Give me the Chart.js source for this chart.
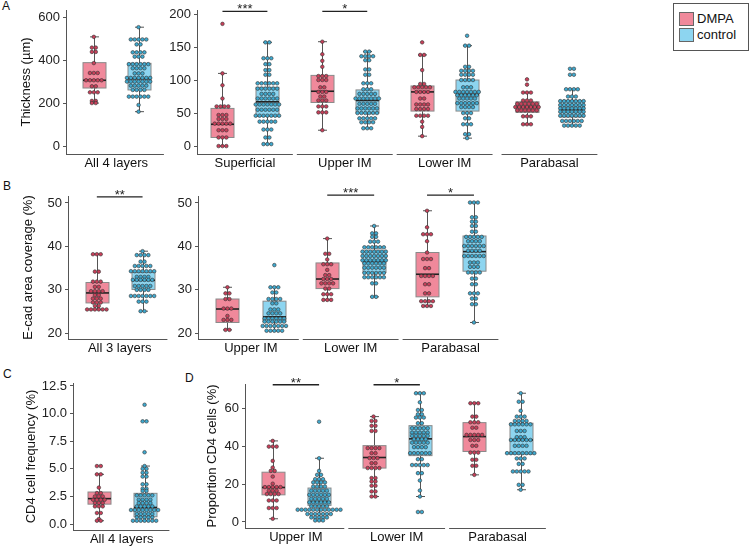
<!DOCTYPE html>
<html>
<head>
<meta charset="utf-8">
<script src="https://cdn.jsdelivr.net/npm/chart.js@4.4.0/dist/chart.umd.min.js"></script>
<style>
  body { margin: 0; width: 750px; height: 547px; position: relative; overflow: hidden; background: #fff;
         font-family: "Liberation Sans", Arial, sans-serif; color: #111; }
  .tag { position: absolute; font-size: 12px; line-height: 12px; }
  #legend { position: absolute; left: 673px; top: 3px; width: 74px; height: 46px; border: 1px solid #555; }
  #legend .sw { position: absolute; left: 5px; width: 13px; height: 12px; border: 1px solid #666; }
  #legend .lb { position: absolute; left: 23px; font-size: 13px; line-height: 13px; }
</style>
</head>
<body>
<div class="tag" style="left:2px;top:0px">A</div>
<div class="tag" style="left:3px;top:180px">B</div>
<div class="tag" style="left:3px;top:368px">C</div>
<div class="tag" style="left:185px;top:372px">D</div>
<div id="legend">
  <div class="sw" style="top:8px;background:#f0899b"></div><div class="lb" style="top:8px">DMPA</div>
  <div class="sw" style="top:24px;background:#8dd5f0"></div><div class="lb" style="top:24px">control</div>
</div>
<script>
const layers4 = ['Superficial', 'Upper IM', 'Lower IM', 'Parabasal'];
const layers3 = ['Upper IM', 'Lower IM', 'Parabasal'];

// box stats are [lower whisker, q1, median, q3, upper whisker]

// A - epithelial thickness (µm), all 4 layers
const thickAllDmpa = [510, 460, 460, 440, 440, 388, 342, 342, 342, 308, 308, 308, 308, 308, 280, 280, 252, 252, 252, 212, 212, 202, 202];
const thickAllCtrl = [555, 498, 498, 498, 498, 498, 475, 475, 438, 438, 438, 438, 418, 418, 418, 383, 383, 383, 383, 383, 383,
  364, 364, 364, 364, 340, 340, 340, 319, 319, 319, 319, 319, 319, 319, 302, 302, 302, 302, 302, 302, 302,
  283, 283, 283, 283, 283, 263, 263, 263, 263, 232, 232, 232, 232, 232, 232, 193, 162];
const thickAllBoxDmpa = [202, 272, 308, 390, 510];
const thickAllBoxCtrl = [162, 263, 315, 387, 555];

// A - thickness per layer
const thickDmpa = [
  [186, 111, 93, 73, 61, 61, 61, 61, 48, 48, 48, 42, 42, 42, 35, 35, 35, 35, 35, 25, 25, 25, 14, 14, 14, 1, 1, 1],
  [159, 140, 130, 121, 107, 107, 107, 101, 101, 101, 90, 90, 83, 83, 83, 76, 76, 70, 70, 70, 61, 61, 61, 52, 52, 52, 25],
  [158, 139, 139, 116, 95, 95, 90, 90, 90, 90, 90, 83, 83, 83, 83, 73, 73, 64, 64, 64, 64, 57, 57, 57, 57, 47, 47, 47, 47, 38, 30, 16],
  [102, 94, 82, 82, 82, 70, 70, 70, 65, 65, 65, 65, 65, 65, 60, 60, 60, 60, 60, 60, 60, 55, 55, 55, 55, 55, 55, 46, 46, 46, 34, 34, 34]
];
const thickCtrl = [
  [158, 158, 134, 134, 134, 125, 125, 116, 116, 109, 109, 96, 96, 96, 96, 96, 96, 88, 88, 88, 88, 88, 88, 80, 80, 80, 80,
   73, 73, 73, 73, 73, 73, 64, 64, 64, 64, 64, 64, 64, 56, 56, 56, 56, 56, 56, 47, 47, 47, 47, 47, 47, 47,
   38, 38, 38, 38, 38, 26, 26, 26, 14, 14, 4, 4, 4],
  [144, 144, 137, 137, 137, 137, 131, 131, 117, 117, 109, 109, 96, 96, 96, 87, 87, 87, 80, 80, 80, 80, 80,
   73, 73, 73, 73, 73, 73, 73, 65, 65, 65, 65, 65, 58, 58, 58, 58, 58, 58, 51, 51, 51, 51, 51, 51,
   43, 43, 43, 43, 43, 37, 37, 37, 37, 28, 28, 28],
  [168, 153, 153, 121, 121, 115, 115, 115, 115, 109, 109, 109, 109, 101, 101, 101, 101, 90, 90, 90,
   83, 83, 83, 83, 83, 83, 83, 78, 78, 78, 78, 78, 78, 73, 73, 73, 73, 73, 66, 66, 66, 66, 66, 66,
   60, 60, 60, 60, 51, 51, 51, 43, 43, 34, 34, 34, 19, 19, 13],
  [118, 118, 109, 109, 87, 87, 87, 87, 76, 76, 76, 69, 69, 69, 69, 69, 69, 69, 63, 63, 63, 63, 63, 63, 63,
   58, 58, 58, 58, 58, 58, 58, 53, 53, 53, 53, 53, 53, 53, 47, 47, 47, 47, 47, 47, 47,
   39, 39, 39, 39, 39, 39, 32, 32, 32, 32, 32]
];
const thickBoxDmpa = [[1, 14, 34, 58, 111], [25, 67, 84, 108, 159], [16, 54, 83, 92, 139], [34, 52, 60, 68, 82]];
const thickBoxCtrl = [[4, 46, 68, 90, 158], [28, 51, 70, 86, 144], [13, 54, 79, 101, 153], [32, 45, 56, 70, 87]];

// B - E-cad area coverage (%)
const ecadAllDmpa = [38.2, 38.2, 38.2, 34.2, 34.2, 31.9, 31.9, 31.9, 30.7, 30.7, 29.7, 29.7, 29.7, 29.7, 28.8, 28.8,
  28.0, 28.0, 28.0, 27.1, 27.1, 27.1, 26.3, 26.3, 25.5, 25.5, 25.5, 25.5, 25.5, 25.5];
const ecadAllCtrl = [38.9, 38.0, 38.0, 38.0, 38.0, 36.5, 36.5, 35.5, 35.5, 35.5, 35.5, 35.5,
  34.3, 34.3, 34.3, 34.3, 34.3, 34.3, 34.3, 33.0, 33.0, 33.0, 33.0, 32.3, 32.3, 32.3, 32.3, 32.3, 32.3,
  30.9, 30.9, 30.9, 30.9, 30.9, 30.0, 30.0, 30.0, 30.0, 28.6, 28.6, 28.6, 28.6, 28.6, 28.6, 28.6,
  27.3, 27.3, 27.3, 25.1, 25.1];
const ecadAllBoxDmpa = [25.5, 27.0, 29.3, 31.7, 38.2];
const ecadAllBoxCtrl = [25.1, 30.1, 32.2, 34.0, 38.9];

const ecadDmpa = [
  [30.6, 29.2, 29.2, 27.9, 27.9, 25.7, 25.7, 25.7, 24.0, 23.1, 23.1, 23.1, 20.8, 20.8],
  [41.8, 38.3, 38.3, 37.0, 35.9, 35.9, 35.9, 34.6, 33.4, 33.4, 32.5, 32.5, 32.5, 31.5, 31.5, 31.5, 31.5,
   30.3, 30.3, 29.0, 29.0, 29.0, 27.7, 27.7, 27.7],
  [48.2, 44.4, 42.8, 42.8, 42.8, 41.2, 38.6, 37.1, 37.1, 37.1, 35.0, 35.0, 33.2, 33.2, 33.2, 33.2,
   31.3, 31.3, 29.2, 29.2, 27.4, 27.4, 27.4, 27.4, 26.3, 26.3, 26.3]
];
const ecadCtrl = [
  [35.7, 30.6, 30.6, 30.6, 29.4, 29.4, 27.9, 27.9, 27.9, 27.9, 26.9, 26.9, 25.5, 25.5, 25.5, 24.6, 24.6, 24.6, 24.6,
   23.4, 23.4, 23.4, 23.4, 23.4, 23.4, 22.7, 22.7, 22.7, 22.7, 22.7, 22.7, 21.7, 21.7, 21.7, 21.7, 21.7, 21.7, 21.7,
   20.6, 20.6, 20.6, 20.6, 20.6],
  [44.7, 43.0, 43.0, 42.2, 42.2, 41.1, 41.1, 41.1, 39.8, 39.8, 39.8, 39.8, 39.8, 39.8,
   38.8, 38.8, 38.8, 38.8, 38.8, 38.8, 38.8, 37.8, 37.8, 37.8, 37.8, 37.8, 37.8, 37.8,
   36.8, 36.8, 36.8, 36.8, 36.8, 36.8, 36.8, 36.1, 36.1, 36.1, 36.1, 36.1, 36.1,
   35.1, 35.1, 35.1, 35.1, 35.1, 35.1, 33.9, 33.9, 33.9, 33.9, 33.9, 33.9, 32.9, 32.9, 32.9, 32.9, 32.9, 32.9,
   31.5, 31.5, 28.4, 28.4],
  [50.1, 50.1, 50.1, 46.7, 46.7, 45.7, 45.7, 44.7, 44.7, 43.4, 43.4, 42.2, 42.2, 42.2, 42.2, 42.2,
   41.2, 41.2, 41.2, 41.2, 40.1, 40.1, 40.1, 40.1, 40.1, 40.1, 39.0, 39.0, 39.0, 39.0,
   37.8, 37.8, 37.8, 37.8, 37.8, 37.8, 36.3, 36.3, 36.3, 35.3, 35.3, 35.3, 34.0, 34.0, 34.0, 34.0,
   32.6, 32.6, 31.3, 31.3, 29.2, 29.2, 29.2, 28.0, 28.0, 26.7, 26.7, 22.5]
];
const ecadBoxDmpa = [[20.8, 22.5, 25.6, 27.9, 30.6], [27.7, 30.3, 32.5, 36.2, 41.8], [26.3, 28.4, 33.6, 38.6, 48.2]];
const ecadBoxCtrl = [[20.6, 22.7, 23.8, 27.4, 30.6], [28.4, 34.0, 36.6, 38.9, 44.7], [22.5, 34.3, 38.8, 42.4, 50.1]];

// C - CD4 cell frequency (%)
const cd4FreqDmpa = [5.25, 5.25, 4.5, 4.5, 3.3, 2.8, 2.8, 2.5, 2.5, 2.5, 2.2, 2.2, 2.2, 2.2, 1.9, 1.9, 1.9,
  1.6, 1.6, 1.6, 1.0, 1.0, 0.45, 0.3, 0.3];
const cd4FreqCtrl = [10.8, 9.3, 9.3, 6.5, 5.25, 5.0, 5.0, 4.65, 4.65, 4.3, 4.3, 3.6, 3.6, 3.2, 3.2, 3.0, 3.0,
  2.6, 2.6, 2.6, 2.6, 2.6, 2.2, 2.2, 2.2, 2.2, 1.9, 1.9, 1.9, 1.9, 1.6, 1.6, 1.6, 1.6, 1.6,
  1.27, 1.27, 1.27, 1.27, 1.27, 1.27, 1.27, 1.27, 0.9, 0.9, 0.9, 0.9, 0.9, 0.6, 0.6, 0.6, 0.6, 0.6,
  0.3, 0.3, 0.3, 0.3, 0.3, 0.3, 0.3];
const cd4FreqBoxDmpa = [0.3, 1.8, 2.3, 2.9, 4.5];
const cd4FreqBoxCtrl = [0.3, 0.66, 1.5, 2.78, 5.25];

// D - proportion CD4 cells (%)
const cd4PropDmpa = [
  [43, 40, 40, 40, 32.4, 28.9, 27.1, 27.1, 24.1, 20.3, 18.5, 18.5, 18.5, 18.5, 18.5, 16.6, 16.6, 16.6,
   14.8, 14.8, 14.8, 14.8, 11.4, 11.4, 11.4, 7.4, 7.4, 7.4, 1.7],
  [55.9, 53.6, 53.6, 51, 51, 48.3, 48.3, 39.2, 39.2, 39.2, 39.2, 36.5, 36.5, 33.9, 33.9, 33.9, 31.2, 31.2,
   28.6, 28.6, 28.6, 28.6, 23.3, 23.3, 21.5, 21.5, 19.2, 19.2, 16.2, 16.2, 13.5, 13.5],
  [63, 63, 63, 55.9, 55.9, 52.9, 52.9, 52.9, 50, 50, 46.2, 46.2, 46.2, 46.2, 46.2, 43.5, 43.5, 43.5,
   40.4, 40.4, 36.8, 36.8, 36.8, 33, 33, 29.8, 29.8, 25]
];
const cd4PropCtrl = [
  [53.2, 33.8, 27.1, 25, 25, 22.7, 22.7, 22.7, 21, 21, 21, 21, 18.8, 18.8, 18.8, 18.8, 16.6, 16.6, 16.6, 16.6, 16.6,
   14.4, 14.4, 14.4, 14.4, 14.4, 14.4, 12.3, 12.3, 12.3, 12.3, 12.3, 10.4, 10.4, 10.4, 10.4, 10.4, 10.4,
   8.3, 8.3, 8.3, 8.3, 8.3, 6.5, 6.5, 6.5, 6.5, 6.5, 6.5, 6.5, 6.5, 6.5, 6.5, 6.5, 6.5,
   4.2, 4.2, 4.2, 4.2, 4.2, 4.2, 4.2, 2.4, 2.4, 2.4, 2.4, 2.4, 0.8, 0.8, 0.8],
  [68.3, 68.3, 68.3, 63.5, 59.4, 59.4, 57.1, 57.1, 55.4, 55.4, 55.4, 52.4, 52.4, 49.7, 49.7, 49.7, 49.7, 49.7,
   47.4, 47.4, 47.4, 47.4, 47.4, 45.7, 45.7, 45.7, 45.7, 45.7, 43.9, 43.9, 43.9, 43.9, 42.1, 42.1, 42.1, 42.1, 42.1,
   39.7, 39.7, 39.7, 39.7, 36.5, 36.5, 36.5, 36.5, 36.5, 36.5, 33.3, 33.3, 30.2, 30.2, 30.2, 30.2, 30.2,
   25.9, 25.9, 22, 16.7, 13.5, 5.3, 5.3],
  [68.3, 63.8, 63.8, 59, 55.9, 55.9, 55.9, 53.6, 53.6, 53.6, 53.6, 51.8, 51.8, 51.8, 51.8, 51.8, 51.8,
   48.3, 48.3, 48.3, 45, 45, 45, 43.5, 43.5, 43.5, 43.5, 43.5, 43.5, 40.4, 40.4, 40.4, 40.4,
   36.5, 36.5, 36.5, 36.5, 36.5, 36.5, 36.5, 36.5, 33.7, 33.7, 33.7, 30.8, 30.8, 26.8, 26.8, 26.8, 26.8, 26.8,
   19.7, 19.7, 17.1]
];
const cd4PropBoxDmpa = [[1.7, 14.4, 18.3, 26.4, 43], [13.5, 28.6, 34.2, 40.5, 55.9], [25, 37.4, 45.3, 52.7, 63]];
const cd4PropBoxCtrl = [[0.8, 8.8, 10.6, 18, 33.8], [13.5, 35.2, 44.1, 51.1, 68.3], [17.1, 36, 43.5, 52.4, 68.3]];

Chart.defaults.font.family = '"Liberation Sans", Arial, sans-serif';

const PINK = '#f0899b', BLUE = '#8dd5f0';
const PINK_DOT = '#c8405a', BLUE_DOT = '#3fa9cf';

// stack equal values side by side, like a centred dotplot
function dotRows(values, center, step) {
  const counts = new Map();
  values.forEach(v => counts.set(v, (counts.get(v) || 0) + 1));
  const pts = [];
  counts.forEach((n, v) => {
    for (let k = 0; k < n; k++) pts.push({ x: center + (k - (n - 1) / 2) * step, y: v });
  });
  return pts;
}

function overlay(boxes, segs, brackets) {
  return {
    id: 'overlay',
    beforeDatasetsDraw(chart) {
      const { ctx, scales: { x, y } } = chart;
      ctx.save();
      boxes.forEach(b => {
        const [lo, q1, md, q3, hi] = b.stats;
        const cx = Math.round(x.getPixelForValue(b.x)) + 0.5;
        const bw = 23, cap = 9;
        ctx.strokeStyle = '#555';
        ctx.lineWidth = 1;
        ctx.beginPath();
        ctx.moveTo(cx, y.getPixelForValue(lo));
        ctx.lineTo(cx, y.getPixelForValue(hi));
        [lo, hi].forEach(v => {
          const py = y.getPixelForValue(v);
          ctx.moveTo(cx - cap / 2, py);
          ctx.lineTo(cx + cap / 2, py);
        });
        ctx.stroke();
        const top = y.getPixelForValue(q3), bot = y.getPixelForValue(q1);
        ctx.fillStyle = b.fill;
        ctx.fillRect(cx - bw / 2, top, bw, bot - top);
        ctx.strokeStyle = '#8a8a8a';
        ctx.strokeRect(cx - bw / 2, top, bw, bot - top);
        ctx.strokeStyle = '#222';
        ctx.lineWidth = 1.6;
        ctx.beginPath();
        const my = y.getPixelForValue(md);
        ctx.moveTo(cx - bw / 2, my);
        ctx.lineTo(cx + bw / 2, my);
        ctx.stroke();
      });
      ctx.restore();
    },
    afterDatasetsDraw(chart) {
      const { ctx, chartArea, scales: { x, y } } = chart;
      ctx.save();
      ctx.strokeStyle = '#555';
      ctx.lineWidth = 1;
      const by = Math.round(chartArea.bottom) + 0.5;
      segs.forEach(([a, b]) => {
        ctx.beginPath();
        ctx.moveTo(x.getPixelForValue(a), by);
        ctx.lineTo(x.getPixelForValue(b), by);
        ctx.stroke();
      });
      ctx.strokeStyle = '#222';
      ctx.fillStyle = '#222';
      ctx.lineWidth = 1.3;
      ctx.font = '13px "Liberation Sans", Arial, sans-serif';
      ctx.textAlign = 'center';
      ctx.textBaseline = 'alphabetic';
      brackets.forEach(br => {
        const py = y.getPixelForValue(br.y);
        const x0 = x.getPixelForValue(br.from), x1 = x.getPixelForValue(br.to);
        ctx.beginPath();
        ctx.moveTo(x0, py);
        ctx.lineTo(x1, py);
        ctx.stroke();
        ctx.fillText(br.label, (x0 + x1) / 2, py + 2);
      });
      ctx.restore();
    }
  };
}

function panel(p) {
  const plotW = p.right - p.axisX, plotH = p.bottom - p.top;
  const padTop = 16, padRight = 4, xH = 22;
  const cv = document.createElement('canvas');
  cv.width = p.yW + plotW + padRight;
  cv.height = padTop + plotH + xH;
  cv.style.cssText = 'position:absolute;left:' + (p.axisX - p.yW) + 'px;top:' + (p.top - padTop) + 'px';
  document.body.appendChild(cv);

  const unit = plotW / (p.xMax - p.xMin);
  const step = 3.9 / unit;
  const datasets = [], boxes = [], segs = [], brackets = [];
  p.groups.forEach((g, i) => {
    const c = p.pos[i];
    [[p.dmpa[i], p.boxD[i], -p.off, PINK, PINK_DOT], [p.ctrl[i], p.boxC[i], p.off, BLUE, BLUE_DOT]].forEach(s => {
      datasets.push({
        data: dotRows(s[0], c + s[2], step),
        pointRadius: 1.8, pointBorderWidth: 0.6,
        pointBackgroundColor: s[4], pointBorderColor: '#333'
      });
      boxes.push({ x: c + s[2], stats: s[1], fill: s[3] });
    });
    segs.push([i === 0 ? p.xMin : c - 0.48, Math.min(p.xMax, c + 0.48)]);
  });
  (p.brackets || []).forEach(b => {
    const c = p.pos[b.group];
    brackets.push({ from: c - p.off, to: c + p.off, y: b.y, label: b.label });
  });

  new Chart(cv, {
    type: 'scatter',
    data: { datasets },
    options: {
      responsive: false,
      animation: false,
      events: [],
      layout: { padding: { top: padTop, right: padRight, left: 0, bottom: 0 } },
      plugins: { legend: { display: false }, tooltip: { enabled: false } },
      scales: {
        x: {
          type: 'linear', min: p.xMin, max: p.xMax,
          grid: { display: false, drawTicks: false }, border: { display: false },
          afterBuildTicks: s => { s.ticks = p.pos.map(v => ({ value: v })); },
          ticks: { autoSkip: false, maxRotation: 0, padding: 2, color: '#111', font: { size: 13 },
                   callback: (v, i) => p.groups[i] },
          afterFit: s => { s.height = xH; s.paddingLeft = 0; s.paddingRight = 0; }
        },
        y: {
          min: p.yMin, max: p.yMax,
          afterBuildTicks: s => { s.ticks = p.yTicks.map(v => ({ value: v })); },
          ticks: { color: '#222', font: { size: 13 }, padding: 3,
                   callback: v => (p.decimals ? v.toFixed(p.decimals) : v) },
          grid: { drawOnChartArea: false, tickLength: 3, color: '#555' },
          border: { color: '#555' },
          title: { display: !!p.title, text: p.title, color: '#111', font: { size: 13 },
                   padding: { top: p.titlePad || 0, bottom: 0 } },
          afterFit: s => { s.width = p.yW; s.paddingTop = 0; s.paddingBottom = 0; }
        }
      }
    },
    plugins: [overlay(boxes, segs, brackets)]
  });
}

const OFF = 0.225;

panel({ axisX: 66, top: 10, bottom: 154, right: 166, yW: 66, xMin: -0.505, xMax: 0.495,
  groups: ['All 4 layers'], pos: [0], off: OFF,
  dmpa: [thickAllDmpa], ctrl: [thickAllCtrl], boxD: [thickAllBoxDmpa], boxC: [thickAllBoxCtrl],
  yMin: -35, yMax: 635, yTicks: [0, 200, 400, 600], title: 'Thickness (µm)', titlePad: 19 });

panel({ axisX: 197, top: 10, bottom: 154, right: 598, yW: 30, xMin: -0.48, xMax: 3.53,
  groups: layers4, pos: [0, 1, 2, 3.05], off: OFF,
  dmpa: thickDmpa, ctrl: thickCtrl, boxD: thickBoxDmpa, boxC: thickBoxCtrl,
  yMin: -11, yMax: 207, yTicks: [0, 50, 100, 150, 200],
  brackets: [{ group: 0, y: 205, label: '***' }, { group: 1, y: 205, label: '*' }] });

panel({ axisX: 68, top: 196, bottom: 339, right: 170, yW: 68, xMin: -0.52, xMax: 0.5,
  groups: ['All 3 layers'], pos: [0], off: 0.23,
  dmpa: [ecadAllDmpa], ctrl: [ecadAllCtrl], boxD: [ecadAllBoxDmpa], boxC: [ecadAllBoxCtrl],
  yMin: 18.7, yMax: 51.6, yTicks: [20, 30, 40, 50], title: 'E-cad area coverage (%)', titlePad: 21,
  brackets: [{ group: 0, y: 51.4, label: '**' }] });

panel({ axisX: 198, top: 196, bottom: 339, right: 503, yW: 30, xMin: -0.53, xMax: 2.52,
  groups: layers3, pos: [0, 1, 2], off: 0.235,
  dmpa: ecadDmpa, ctrl: ecadCtrl, boxD: ecadBoxDmpa, boxC: ecadBoxCtrl,
  yMin: 18.7, yMax: 51.6, yTicks: [20, 30, 40, 50],
  brackets: [{ group: 1, y: 51.8, label: '***' }, { group: 2, y: 51.8, label: '*' }] });

panel({ axisX: 73, top: 383, bottom: 530, right: 173, yW: 73, xMin: -0.49, xMax: 0.51,
  groups: ['All 4 layers'], pos: [0], off: 0.23,
  dmpa: [cd4FreqDmpa], ctrl: [cd4FreqCtrl], boxD: [cd4FreqBoxDmpa], boxC: [cd4FreqBoxCtrl],
  yMin: -0.54, yMax: 12.77, yTicks: [0, 2.5, 5, 7.5, 10, 12.5], decimals: 1,
  title: 'CD4 cell frequency (%)', titlePad: 24 });

panel({ axisX: 245, top: 384, bottom: 528, right: 548, yW: 45, xMin: -0.505, xMax: 2.495,
  groups: layers3, pos: [0, 1, 2], off: 0.23,
  dmpa: cd4PropDmpa, ctrl: cd4PropCtrl, boxD: cd4PropBoxDmpa, boxC: cd4PropBoxCtrl,
  yMin: -3.2, yMax: 73.2, yTicks: [0, 20, 40, 60], title: 'Proportion CD4 cells (%)', titlePad: 5,
  brackets: [{ group: 0, y: 72.8, label: '**' }, { group: 1, y: 72.8, label: '*' }] });
</script>
</body>
</html>
